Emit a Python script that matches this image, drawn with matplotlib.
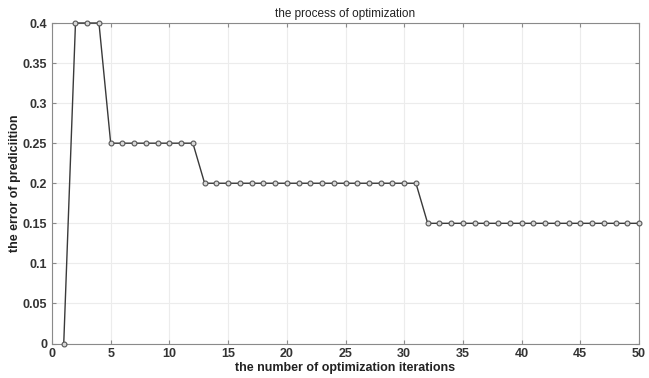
import matplotlib
matplotlib.use('Agg')
import matplotlib.pyplot as plt
import numpy as np

# optimization history
iterations = list(range(1, 51))
error_values = ([0.0] + [0.4] * 3 + [0.25] * 8 + [0.2] * 19 + [0.15] * 19)
x_ticks = [0, 5, 10, 15, 20, 25, 30, 35, 40, 45, 50]
y_ticks = [0, 0.05, 0.1, 0.15, 0.2, 0.25, 0.3, 0.35, 0.4]
y_tick_labels = ['0', '0.05', '0.1', '0.15', '0.2', '0.25', '0.3', '0.35', '0.4']

plt.rcParams['font.family'] = ['Liberation Sans', 'DejaVu Sans']

fig = plt.figure(figsize=(6.49, 3.78), dpi=100)
ax = fig.add_axes([52 / 649, 1 - 343.5 / 378, 587 / 649, 320.5 / 378])

ax.plot(iterations, error_values, color='#3a3a3a', linewidth=1.0,
        marker='o', markersize=3.5, markerfacecolor='#d8d8d8',
        markeredgecolor='#555555', markeredgewidth=0.8, clip_on=False, zorder=5)

ax.set_xlim(0, 50)
ax.set_ylim(0, 0.4)
ax.set_xticks(x_ticks)
ax.set_yticks(y_ticks)
ax.set_yticklabels(y_tick_labels)
ax.grid(True, color='#ececec', linewidth=0.8)
ax.set_axisbelow(True)

for side in ax.spines.values():
    side.set_color('#8a8a8a')
    side.set_linewidth(0.8)
ax.tick_params(direction='in', length=3, color='#8a8a8a', labelsize=9,
               labelcolor='#333333', top=True, right=True)
for lbl in ax.get_xticklabels() + ax.get_yticklabels():
    lbl.set_fontweight('bold')

ax.set_title('the process of optimization', fontsize=8.5, color='#222222', pad=4)
ax.set_xlabel('the number of optimization iterations', fontsize=9,
              fontweight='bold', color='#222222', labelpad=1)
ax.set_ylabel('the error of prediciition', fontsize=9,
              fontweight='bold', color='#222222', labelpad=1)

fig.savefig('out.png', dpi=100)
